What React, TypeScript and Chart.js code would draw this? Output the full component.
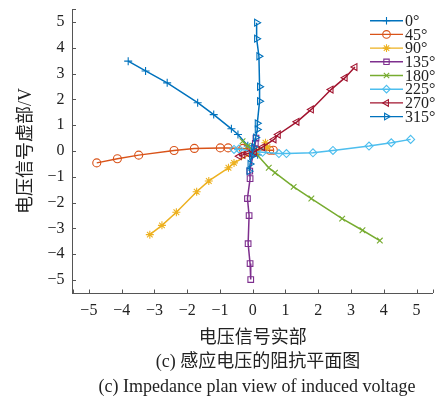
import React, { useEffect, useRef } from 'react';
import { Chart, registerables } from 'chart.js';
import { drawPoint } from 'chart.js/helpers';

Chart.register(...registerables);

const seriesLabels = ['0°', '45°', '90°', '135°', '180°', '225°', '270°', '315°'];

const deg0X = [0.15, -0.15, -0.45, -0.65, -1.19, -1.68, -2.61, -3.27, -3.8];
const deg0Y = [-0.15, 0.2, 0.64, 0.86, 1.41, 1.87, 2.64, 3.1, 3.48];

const deg45X = [0.63, 0.52, 0.1, -0.3, -0.75, -0.99, -1.78, -2.4, -3.48, -4.13, -4.76];
const deg45Y = [0.03, 0.03, 0.05, 0.1, 0.12, 0.12, 0.1, 0.02, -0.16, -0.3, -0.46];

const deg90X = [0.39, 0.45, 0.1, -0.57, -0.74, -1.34, -1.71, -2.33, -2.77, -3.14];
const deg90Y = [0.32, 0.15, 0.0, -0.46, -0.65, -1.16, -1.58, -2.37, -2.88, -3.24];

const deg135X = [0.1, 0.08, 0.02, -0.09, -0.08, -0.16, -0.11, -0.14, -0.08, -0.06];
const deg135Y = [0.5, 0.3, -0.1, -0.78, -1.07, -1.84, -2.5, -3.59, -4.36, -4.98];

const deg180X = [-0.31, -0.15, 0.1, 0.49, 0.68, 1.25, 1.79, 2.73, 3.35, 3.88];
const deg180Y = [0.38, 0.2, -0.1, -0.65, -0.84, -1.39, -1.84, -2.62, -3.07, -3.47];

const deg225X = [-0.57, -0.42, 0.0, 0.3, 0.8, 1.03, 1.84, 2.45, 3.55, 4.23, 4.82];
const deg225Y = [0.06, 0.08, -0.02, -0.05, -0.1, -0.1, -0.07, 0.02, 0.19, 0.32, 0.45];

const deg270X = [-0.41, -0.3, -0.15, 0.05, 0.3, 0.65, 0.78, 1.35, 1.79, 2.39, 2.82, 3.12];
const deg270Y = [-0.2, -0.15, -0.1, -0.03, 0.15, 0.45, 0.64, 1.13, 1.61, 2.38, 2.84, 3.25];

const deg315X = [-0.11, -0.08, -0.03, 0.03, 0.09, 0.14, 0.14, 0.21, 0.21, 0.19, 0.12, 0.12];
const deg315Y = [-0.78, -0.5, -0.2, 0.15, 0.52, 0.83, 1.07, 1.93, 2.49, 3.67, 4.35, 4.97];

const seriesX = [deg0X, deg45X, deg90X, deg135X, deg180X, deg225X, deg270X, deg315X];
const seriesY = [deg0Y, deg45Y, deg90Y, deg135Y, deg180Y, deg225Y, deg270Y, deg315Y];

const xTickValues = [-5, -4, -3, -2, -1, 0, 1, 2, 3, 4, 5];
const yTickValues = [-5, -4, -3, -2, -1, 0, 1, 2, 3, 4, 5];

const colors = ['#0072BD', '#D95319', '#EDB120', '#7E2F8E', '#77AC30', '#4DBEEE', '#A2142F', '#0072BD'];
const pointStyles = ['cross', 'circle', 'star', 'rect', 'crossRot', 'rectRot', 'triangle', 'triangle'];
const rotations = [0, 0, 0, 0, 0, 0, -90, 90];

const SERIF = "'Liberation Serif', 'Times New Roman', serif";
const MIXED = "'Liberation Serif', 'Noto Sans CJK SC', serif";
const AXIS_COLOR = '#555555';
const TEXT_COLOR = '#222222';

const fmt = (v: number) => String(v).replace('-', '\u2212');

const extrasPlugin = {
  id: 'extras',
  afterDraw(chart: any) {
    const ctx = chart.ctx;
    const xs = chart.scales.x;
    const ys = chart.scales.y;
    const area = chart.chartArea;
    ctx.save();
    // inward tick marks
    ctx.strokeStyle = AXIS_COLOR;
    ctx.lineWidth = 1;
    ctx.beginPath();
    const xt = [...xTickValues, xs.min, xs.max];
    xt.forEach((v) => {
      const px = Math.round(xs.getPixelForValue(v)) + 0.5;
      ctx.moveTo(px, area.bottom);
      ctx.lineTo(px, area.bottom - 3.5);
    });
    const yt = [...yTickValues, ys.min, ys.max];
    yt.forEach((v) => {
      const py = Math.round(ys.getPixelForValue(v)) + 0.5;
      ctx.moveTo(area.left, py);
      ctx.lineTo(area.left + 3.5, py);
    });
    ctx.stroke();

    // legend
    const lx0 = 370;
    const lx1 = 403;
    seriesLabels.forEach((lab, i) => {
      const y = 20.7 + i * 13.7;
      ctx.strokeStyle = colors[i];
      ctx.lineWidth = 1.4;
      ctx.beginPath();
      ctx.moveTo(lx0, y);
      ctx.lineTo(lx1, y);
      ctx.stroke();
      ctx.fillStyle = 'rgba(0,0,0,0)';
      ctx.strokeStyle = colors[i];
      ctx.lineWidth = 1.1;
      drawPoint(ctx, { pointStyle: pointStyles[i], rotation: rotations[i], radius: 3.8, borderWidth: 1.1 } as any, (lx0 + lx1) / 2, y);
      ctx.fillStyle = TEXT_COLOR;
      ctx.font = `16px ${SERIF}`;
      ctx.textAlign = 'left';
      ctx.textBaseline = 'middle';
      ctx.fillText(lab, 405, y + 1);
    });

    // captions
    ctx.fillStyle = TEXT_COLOR;
    ctx.textAlign = 'center';
    ctx.textBaseline = 'middle';
    ctx.font = `18px ${MIXED}`;
    ctx.fillText('(c) 感应电压的阻抗平面图', 258, 362);
    ctx.font = `18px ${SERIF}`;
    ctx.fillText('(c) Impedance plan view of induced voltage', 257, 387);
    ctx.restore();
  },
};

export default function App() {
  const ref = useRef<HTMLCanvasElement>(null);
  useEffect(() => {
    document.body.style.margin = '0';
    const datasets = seriesLabels.map((label, i) => ({
      label,
      data: seriesX[i].map((x, k) => ({ x, y: seriesY[i][k] })),
      showLine: true,
      borderColor: colors[i],
      backgroundColor: 'rgba(0,0,0,0)',
      borderWidth: 1.5,
      pointStyle: pointStyles[i],
      rotation: rotations[i],
      pointRadius: 4,
      pointBorderWidth: 1.1,
      pointBorderColor: colors[i],
      pointBackgroundColor: 'rgba(0,0,0,0)',
      order: 7 - i,
    }));
    const chart = new Chart(ref.current as HTMLCanvasElement, {
      type: 'scatter',
      data: { datasets },
      options: {
        animation: false,
        responsive: false,
        devicePixelRatio: 1,
        layout: { padding: { left: 0, right: 4, top: 9, bottom: 0 } },
        plugins: { legend: { display: false }, tooltip: { enabled: false } },
        scales: {
          x: {
            type: 'linear',
            min: -5.5,
            max: 5.5,
            afterBuildTicks: (s: any) => {
              s.ticks = xTickValues.map((v) => ({ value: v }));
            },
            afterFit: (s: any) => {
              s.height = 104;
              s.paddingLeft = 0;
              s.paddingRight = 0;
            },
            ticks: {
              autoSkip: false,
              maxRotation: 0,
              padding: 8,
              color: TEXT_COLOR,
              font: { family: SERIF, size: 16 },
              callback: (v: any) => fmt(v),
            },
            grid: { display: false, drawTicks: false },
            border: { display: true, color: AXIS_COLOR, width: 1 },
            title: {
              display: true,
              text: '电压信号实部',
              color: TEXT_COLOR,
              font: { family: MIXED, size: 18 },
              padding: { top: 0, bottom: 48 },
            },
          },
          y: {
            type: 'linear',
            min: -5.5,
            max: 5.5,
            afterBuildTicks: (s: any) => {
              s.ticks = yTickValues.map((v) => ({ value: v }));
            },
            afterFit: (s: any) => {
              s.width = 72.5;
              s.paddingTop = 0;
              s.paddingBottom = 0;
            },
            ticks: {
              autoSkip: false,
              padding: 8,
              color: TEXT_COLOR,
              font: { family: SERIF, size: 16 },
              callback: (v: any) => fmt(v),
            },
            grid: { display: false, drawTicks: false },
            border: { display: true, color: AXIS_COLOR, width: 1 },
            title: {
              display: true,
              text: '电压信号虚部/V',
              color: TEXT_COLOR,
              font: { family: MIXED, size: 18 },
              padding: { top: 15, bottom: 0 },
            },
          },
        },
      },
      plugins: [extrasPlugin],
    });
    return () => chart.destroy();
  }, []);
  return <canvas ref={ref} width={438} height={397} style={{ display: 'block' }} />;
}
